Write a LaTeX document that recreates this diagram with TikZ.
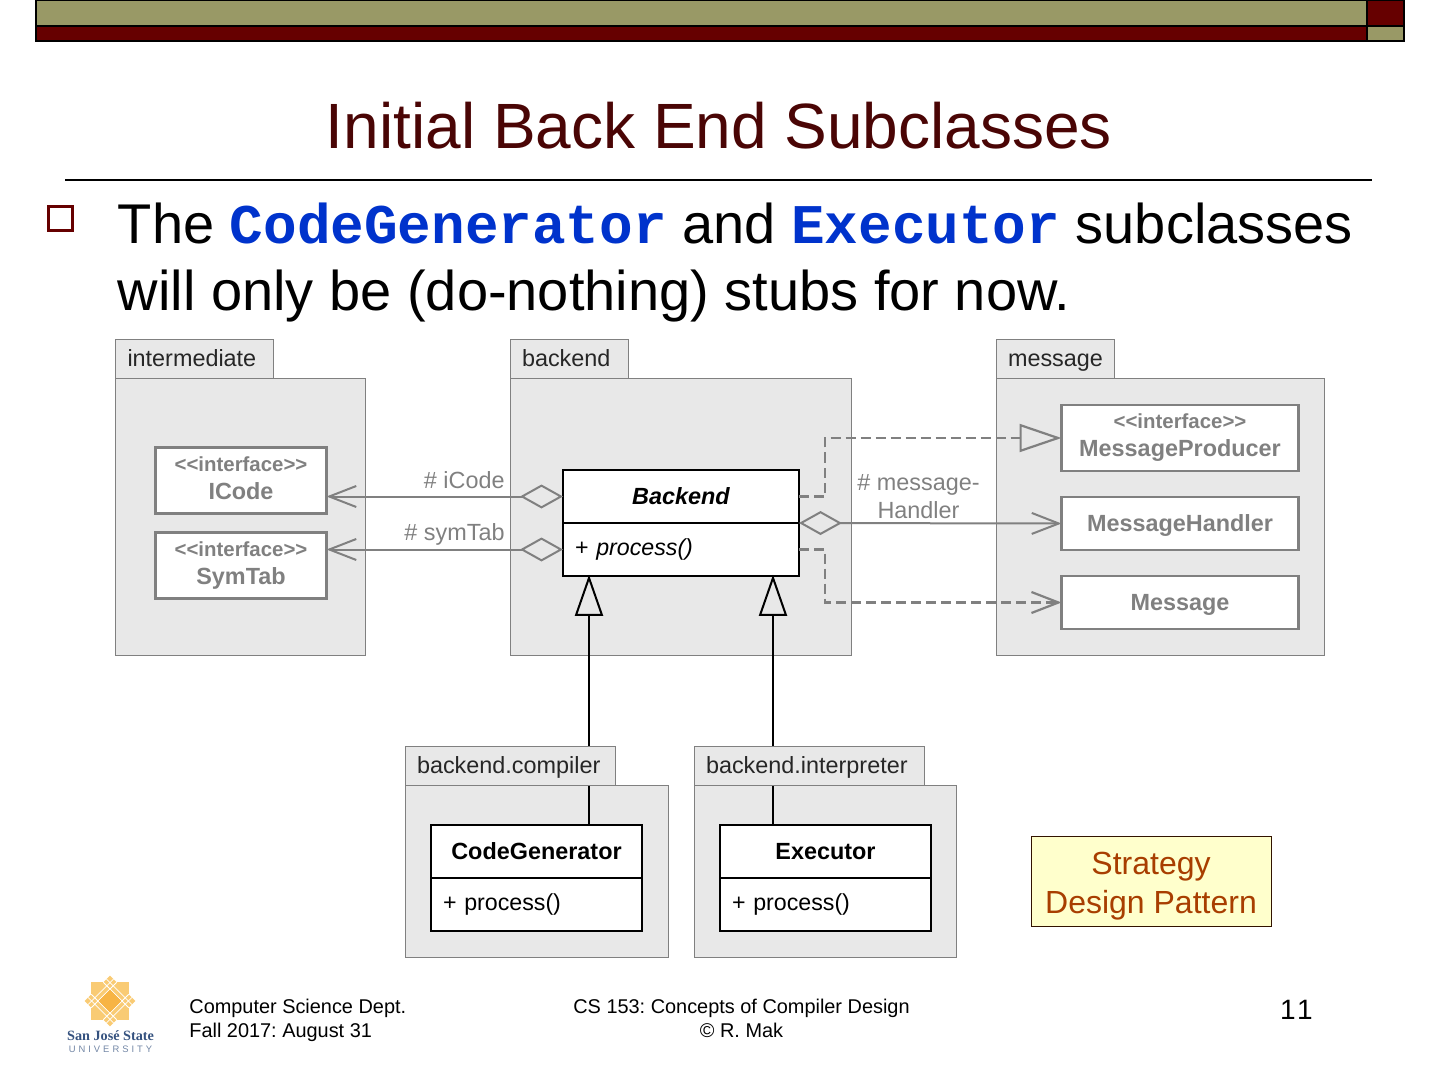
\documentclass[tikz,border=0pt]{standalone}
\usepackage{fontspec}
\setmainfont{Liberation Sans}
\newfontfamily\codefont{Liberation Mono}
\newfontfamily\logoserif{Liberation Serif}
\newfontfamily\logospaced[LetterSpace=32]{Liberation Sans}
\usetikzlibrary{arrows.meta}
\definecolor{barolive}{HTML}{999966}
\definecolor{barred}{HTML}{660000}
\definecolor{titlered}{HTML}{4A0505}
\definecolor{codeblue}{HTML}{0033CC}
\definecolor{pkggray}{HTML}{E8E8E8}
\definecolor{umlgray}{HTML}{808080}
\definecolor{notefill}{HTML}{FFFFCC}
\definecolor{notetext}{HTML}{A83E00}
\definecolor{logoorange}{HTML}{F7B444}
\definecolor{logolight}{HTML}{F9CB74}
\definecolor{logoblue}{HTML}{35527F}
\newcommand{\code}[1]{{\codefont\bfseries\color{codeblue}#1}}
\newcommand{\stereo}{{\fontsize{10.2}{12}\selectfont {<}{<}interface{>}{>}}}
\tikzstyle{barcell} = [rectangle, draw=black, line width=1pt, inner sep=0pt, outer sep=0pt]
\tikzstyle{pkgbody} = [rectangle, draw=umlgray, line width=0.5pt, fill=pkggray, inner sep=0pt, outer sep=0pt]
\tikzstyle{pkgtab} = [pkgbody, font=\fontsize{11.7}{13}\selectfont, text=black!85, minimum height=19.5pt, text height=9pt, text depth=2pt, align=left]
\tikzstyle{graybox} = [rectangle, draw=umlgray, line width=1.1pt, fill=white, inner sep=0pt, outer sep=0pt, minimum width=118.5pt, align=center, text=umlgray, font=\fontsize{11.7}{13.5}\selectfont\bfseries]
\tikzstyle{smallgray} = [graybox, minimum width=85.5pt, minimum height=33pt]
\tikzstyle{blackbox} = [rectangle, draw=black, line width=1.25pt, fill=white, inner sep=0pt, outer sep=0pt, minimum height=26.5pt, font=\fontsize{11.7}{13}\selectfont]
\tikzstyle{opbox} = [blackbox, font=\fontsize{11.6}{13}\selectfont, align=left]
\tikzstyle{bigtext} = [anchor=base west, inner sep=0pt, font=\fontsize{28}{32}\selectfont]
\tikzstyle{footertext} = [inner sep=0pt, font=\fontsize{9.95}{12}\selectfont, align=center]
\tikzstyle{umllabel} = [inner sep=0pt, text=umlgray, font=\fontsize{11.7}{14}\selectfont, align=center]
\tikzstyle{assoc} = [draw=umlgray, line width=1pt, {Diamond[open,fill=pkggray,length=21.5pt,width=12pt]}-{Straight Barb[length=13.5pt,width=10.5pt]}]
\tikzstyle{depend} = [draw=umlgray, line width=1.1pt, dash pattern=on 5pt off 2.5pt]
\tikzstyle{inherit} = [draw=black, line width=1pt, shorten >=-0.6pt, -{Triangle[open,fill=pkggray,length=20.5pt,width=14pt]}]
\begin{document}
\frenchspacing
\begin{tikzpicture}[x=0.5pt,y=-0.5pt]
\useasboundingbox (0,0) rectangle (1440,1080);
% top bar
\node (barA) [barcell, fill=barolive, minimum width=665.5pt, minimum height=13pt] at (701.5,13) {};
\node (barB) [barcell, fill=barred, minimum width=665.5pt, minimum height=7.5pt] at (701.5,33.5) {};
\node (barC) [barcell, fill=barred, minimum width=18.5pt, minimum height=13pt] at (1385.5,13) {};
\node (barD) [barcell, fill=barolive, minimum width=18.5pt, minimum height=7.5pt] at (1385.5,33.5) {};
% title and text
\node (title) [anchor=base, inner sep=0pt, text=titlered, font=\fontsize{32}{36}\selectfont] at (719,149) {Initial Back End Subclasses};
\draw [line width=1pt] (65,180) coordinate (ruleL) -- (1372,180) coordinate (ruleR);
\node (bullet) [rectangle, draw=barred, line width=1.5pt, inner sep=0pt, minimum size=12pt] at (60.5,218.5) {};
\node (lineA) [bigtext] at (117.5,244) {The \code{CodeGenerator} and \code{Executor} subclasses};
\node (lineB) [bigtext] at (117.5,311) {will only be (do-nothing) stubs for now.};
% packages
\node (interBody) [pkgbody, minimum width=125pt, minimum height=138.5pt] at (240.5,517) {};
\node (interTab) [pkgtab, minimum width=79pt, text width=67pt] at (194.5,359.5) {intermediate};
\node (backBody) [pkgbody, minimum width=170.5pt, minimum height=138.5pt] at (681,517) {};
\node (backTab) [pkgtab, minimum width=59pt, text width=47pt] at (569,359.5) {backend};
\node (msgBody) [pkgbody, minimum width=164pt, minimum height=138.5pt] at (1160,517) {};
\node (msgTab) [pkgtab, minimum width=59pt, text width=47pt] at (1055,359.5) {message};
\node (compBody) [pkgbody, minimum width=131.5pt, minimum height=86pt] at (536.5,871.5) {};
\node (interpBody) [pkgbody, minimum width=131pt, minimum height=86pt] at (825,871.5) {};
% gray classes
\node (iCode) [smallgray] at (241,480.5) {\stereo\\[0.5pt]ICode\vphantom{y}};
\node (symTab) [smallgray] at (241,565.5) {\stereo\\[0.5pt]SymTab};
\node (producer) [graybox, minimum height=33pt] at (1180,438) {\stereo\\[0.5pt]MessageProducer};
\node (handler) [graybox, minimum height=26.5pt, text height=9.5pt, text depth=2pt] at (1180,523.5) {MessageHandler};
\node (message) [graybox, minimum height=26.5pt, text height=9.5pt, text depth=2pt] at (1180,602.5) {Message};
% backend class
\node (backName) [blackbox, minimum width=118pt, font=\fontsize{11.7}{13}\selectfont\bfseries\itshape] at (681,496.5) {Backend};
\node (backOp) [opbox, minimum width=118pt, text width=106pt] at (681,549.5) {+ \textit{process()}};
% subclasses
\coordinate (inhA) at (589,576);
\coordinate (inhB) at (773,576);
\node (genName) [blackbox, minimum width=105.5pt, font=\fontsize{11.7}{13}\selectfont\bfseries] at (536.5,851.5) {CodeGenerator};
\node (genOp) [opbox, minimum width=105.5pt, text width=93.5pt] at (536.5,904.5) {+ process()};
\node (exeName) [blackbox, minimum width=105.5pt, font=\fontsize{11.7}{13}\selectfont\bfseries] at (825.5,851.5) {Executor};
\node (exeOp) [opbox, minimum width=105.5pt, text width=93.5pt] at (825.5,904.5) {+ process()};
\draw [inherit] (inhA |- genName.north) -- (inhA);
\draw [inherit] (inhB |- exeName.north) -- (inhB);
\node (compTab) [pkgtab, minimum width=105pt, text width=93pt] at (510,766) {backend.compiler};
\node (interpTab) [pkgtab, minimum width=115pt, text width=103pt] at (809,766) {backend.interpreter};
% connectors
\draw [assoc] (backName.west) -- (backName.west -| iCode.east);
\draw [assoc] (backOp.west) -- (backOp.west -| symTab.east);
\draw [assoc] (backName.south east) -- (handler.west);
\draw [depend, -{Triangle[open,fill=pkggray,length=21pt,width=14pt]}] (backName.east) -- ++(26,0) |- (producer.west);
\draw [depend, -{Straight Barb[length=13.5pt,width=10.5pt]}] (backOp.east) -- ++(26,0) |- (message.west);
% labels
\node (iCodeLabel) [umllabel, anchor=base east] at (505,488) {\# iCode};
\node (symTabLabel) [umllabel, anchor=base east] at (505,540) {\# symTab};
\node (handlerLabel) [umllabel] at (918.5,496.5) {\# message-\\Handler};
% note
\node (note) [rectangle, draw=black!70!notetext, line width=0.5pt, fill=notefill, inner sep=0pt, minimum width=120pt, minimum height=45pt] at (1151,881) {};
\node (noteText) [inner sep=0pt, text=notetext, align=center, font=\fontsize{16}{19.5}\selectfont] at (1151,886) {Strategy\\Design Pattern};
% logo
\begin{scope}[shift={(110,1001)}]
\fill [logolight] (-19,-19) rectangle (19,19);
\begin{scope}[rotate=45]
\fill [logolight] (-18,-18) rectangle (18,18);
\foreach \d in {-13,-8.5,8.5,13} {
\draw [white, line width=0.4pt] (\d,-18) -- (\d,18);
\draw [white, line width=0.4pt] (-18,\d) -- (18,\d);
}
\fill [logoorange] (-8,-8) rectangle (8,8);
\end{scope}
\end{scope}
\node (logoName) [inner sep=0pt, text=logoblue, font=\logoserif\fontsize{7.1}{9}\selectfont\bfseries] at (110.5,1036) {San José State};
\node (logoUni) [inner sep=0pt, text=logoblue!70, font=\logospaced\fontsize{4.7}{5}\selectfont] at (110.5,1049) {UNIVERSITY};
% footer
\node (footL) [footertext, anchor=base west, align=left] at (189,1013) {Computer Science Dept.};
\node (footLb) [footertext, anchor=base west, align=left] at (189,1037) {Fall 2017: August 31};
\node (footC) [footertext, anchor=base] at (741.5,1013) {CS 153: Concepts of Compiler Design};
\node (footCb) [footertext, anchor=base] at (741.5,1037) {© R. Mak};
\node (pageNo) [inner sep=0pt, anchor=base, font=\fontsize{14}{16}\selectfont] at (1296.5,1019) {1\kern0.7pt 1};
\end{tikzpicture}
\end{document}
